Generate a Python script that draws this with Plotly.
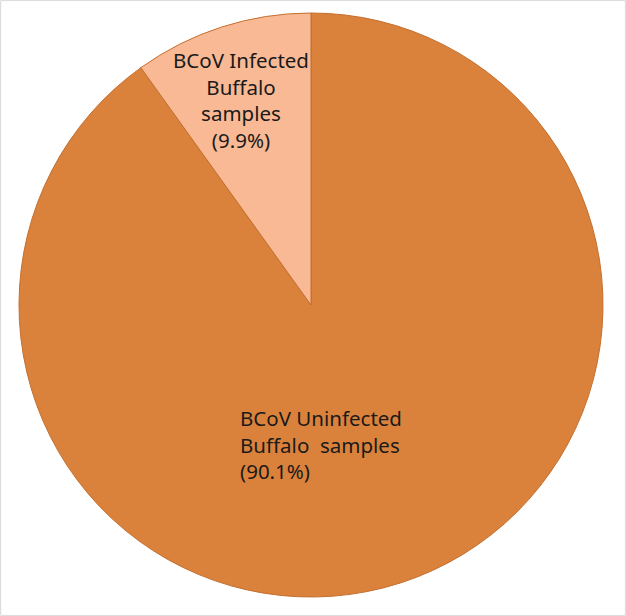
import plotly.graph_objects as go

labels = ["BCoV Uninfected Buffalo samples", "BCoV Infected Buffalo samples"]
values = [90.1, 9.9]
label_text = ["BCoV Uninfected<br>Buffalo  samples<br>(90.1%)", "BCoV Infected<br>Buffalo<br>samples<br>(9.9%)"]
colors = ["#DA823C", "#F8B994"]

W, H = 626, 616
cx, cy, r = 311, 305, 292

fig = go.Figure(go.Pie(
    labels=labels, values=values, sort=False, direction="clockwise", rotation=0,
    marker=dict(colors=colors, line=dict(color="#C46F2E", width=1)),
    textinfo="none", hoverinfo="label+percent", showlegend=False,
    domain=dict(x=[(cx - r) / W, (cx + r) / W], y=[(H - cy - r) / H, (H - cy + r) / H]),
))

fig.add_annotation(x=241 / W, y=1 - 100 / H, xref="paper", yref="paper", text=label_text[1],
                   showarrow=False, align="center", xanchor="center", yanchor="middle",
                   font=dict(family="Noto Sans", size=20.5, color="#1a1a1a"))
fig.add_annotation(x=238 / W, y=1 - 444 / H, xref="paper", yref="paper", text=label_text[0],
                   showarrow=False, align="left", xanchor="left", yanchor="middle",
                   font=dict(family="Noto Sans", size=20.5, color="#1a1a1a"))

fig.add_shape(type="rect", xref="paper", yref="paper", x0=0.001, y0=0.001, x1=0.999, y1=0.999,
              line=dict(color="#D9D9D9", width=1))

fig.update_layout(width=W, height=H, margin=dict(l=0, r=0, t=0, b=0),
                  paper_bgcolor="white", plot_bgcolor="white")
fig.write_html("out.html")
